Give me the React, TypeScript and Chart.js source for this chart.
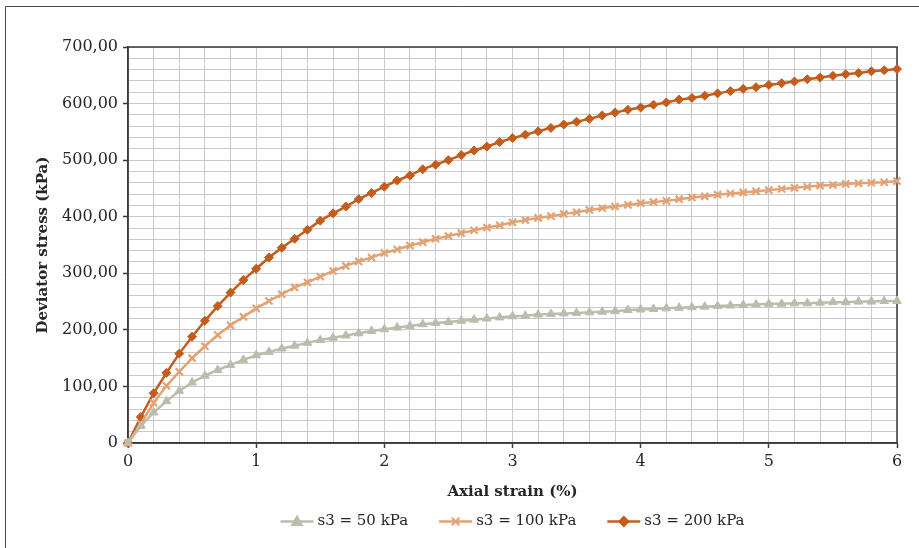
import React, { useEffect, useRef } from 'react';
import { Chart, registerables } from 'chart.js';

Chart.register(...registerables);

const strain = [
  0, 0.1, 0.2, 0.3, 0.4, 0.5, 0.6, 0.7, 0.8, 0.9,
  1, 1.1, 1.2, 1.3, 1.4, 1.5, 1.6, 1.7, 1.8, 1.9,
  2, 2.1, 2.2, 2.3, 2.4, 2.5, 2.6, 2.7, 2.8, 2.9,
  3, 3.1, 3.2, 3.3, 3.4, 3.5, 3.6, 3.7, 3.8, 3.9,
  4, 4.1, 4.2, 4.3, 4.4, 4.5, 4.6, 4.7, 4.8, 4.9,
  5, 5.1, 5.2, 5.3, 5.4, 5.5, 5.6, 5.7, 5.8, 5.9, 6,
];

const s50 = [
  0, 30, 54, 74, 92, 107, 119, 129, 138, 147,
  155, 161, 167, 172, 177, 182, 186, 190, 194, 198,
  201, 204, 207, 210, 212, 214, 216, 218, 220, 222,
  224, 225, 227, 228, 229, 230, 231, 232, 233, 235,
  236, 237, 238, 239, 240, 241, 242, 243, 244, 245,
  246, 246, 247, 247, 248, 249, 249, 250, 250, 251, 251,
];

const s100 = [
  0, 34, 71, 101, 126, 150, 171, 191, 208, 223,
  238, 251, 263, 275, 284, 294, 304, 313, 321, 328,
  336, 342, 349, 355, 361, 366, 371, 376, 381, 385,
  390, 394, 398, 401, 405, 408, 412, 415, 418, 421,
  424, 426, 428, 431, 434, 436, 439, 441, 443, 445,
  447, 449, 451, 453, 455, 456, 458, 459, 460, 461, 463,
];

const s200 = [
  0, 46, 88, 124, 158, 188, 216, 242, 266, 288,
  308, 328, 345, 361, 377, 393, 406, 418, 431, 442,
  453, 464, 473, 484, 492, 500, 509, 517, 524, 532,
  539, 545, 551, 557, 563, 568, 573, 579, 584, 589,
  593, 598, 602, 607, 610, 614, 618, 622, 626, 629,
  633, 636, 639, 643, 646, 649, 652, 654, 657, 659, 661,
];

const seriesLabels = ['s3 = 50 kPa', 's3 = 100 kPa', 's3 = 200 kPa'];
const yTickLabels: Record<number, string> = {
  0: '0', 100: '100,00', 200: '200,00', 300: '300,00', 400: '400,00',
  500: '500,00', 600: '600,00', 700: '700,00',
};
const xTickLabels: Record<number, string> = {
  0: '0', 1: '1', 2: '2', 3: '3', 4: '4', 5: '5', 6: '6',
};
const xTitle = 'Axial strain (%)';
const yTitle = 'Deviator stress (kPa)';

const FONT = '"DejaVu Serif", "Liberation Serif", serif';
const TEXT = '#262626';
const GRID = '#c9c9c9';
const AXIS = '#3a3a3a';

function drawMarker(ctx: CanvasRenderingContext2D, style: string, x: number, y: number, r: number, color: string) {
  ctx.save();
  ctx.fillStyle = color;
  ctx.strokeStyle = color;
  ctx.lineWidth = 2;
  ctx.beginPath();
  if (style === 'triangle') {
    ctx.moveTo(x, y - r);
    ctx.lineTo(x + r * 0.95, y + r * 0.7);
    ctx.lineTo(x - r * 0.95, y + r * 0.7);
    ctx.closePath();
    ctx.fill();
    ctx.stroke();
  } else if (style === 'crossRot') {
    const d = r * 0.75;
    ctx.moveTo(x - d, y - d);
    ctx.lineTo(x + d, y + d);
    ctx.moveTo(x + d, y - d);
    ctx.lineTo(x - d, y + d);
    ctx.stroke();
  } else {
    ctx.moveTo(x, y - r);
    ctx.lineTo(x + r, y);
    ctx.lineTo(x, y + r);
    ctx.lineTo(x - r, y);
    ctx.closePath();
    ctx.fill();
    ctx.stroke();
  }
  ctx.restore();
}

const framePlugin = {
  id: 'frame',
  beforeDatasetsDraw(chart: any) {
    const { ctx, chartArea } = chart;
    ctx.save();
    ctx.strokeStyle = AXIS;
    ctx.lineWidth = 1.5;
    ctx.strokeRect(chartArea.left, chartArea.top, chartArea.right - chartArea.left, chartArea.bottom - chartArea.top);
    ctx.restore();
  },
  afterDraw(chart: any) {
    const { ctx, chartArea } = chart;
    ctx.save();
    ctx.strokeStyle = '#4a4a4a';
    ctx.lineWidth = 1;
    ctx.beginPath();
    ctx.moveTo(5.5, 548);
    ctx.lineTo(5.5, 6.5);
    ctx.lineTo(919, 6.5);
    ctx.stroke();
    ctx.restore();

    ctx.save();
    ctx.font = '15px ' + FONT;
    ctx.textBaseline = 'middle';
    ctx.textAlign = 'left';
    const lineLen = 33;
    const gap = 4;
    const spacing = 31;
    const items = chart.data.datasets.map((ds: any) => ({ ds, w: ctx.measureText(ds.label).width }));
    let total = 0;
    items.forEach((it: any, i: number) => {
      total += lineLen + gap + it.w + (i > 0 ? spacing : 0);
    });
    let x = (chartArea.left + chartArea.right) / 2 - total / 2;
    const y = 521.5;
    items.forEach((it: any) => {
      const ds = it.ds;
      ctx.strokeStyle = ds.borderColor;
      ctx.lineWidth = 2.5;
      ctx.beginPath();
      ctx.moveTo(x, y);
      ctx.lineTo(x + lineLen, y);
      ctx.stroke();
      drawMarker(ctx, ds.pointStyle, x + lineLen / 2, y, ds.pointRadius, ds.borderColor);
      ctx.fillStyle = TEXT;
      ctx.fillText(ds.label, x + lineLen + gap, y);
      x += lineLen + gap + it.w + spacing;
    });
    ctx.restore();
  },
};

function isInt(v: number) {
  return Math.abs(v - Math.round(v)) < 1e-6;
}

export default function App() {
  const ref = useRef<HTMLCanvasElement | null>(null);

  useEffect(() => {
    if (!ref.current) return;
    const mk = (vals: number[]) => strain.map((x, i) => ({ x, y: vals[i] }));
    const chart = new Chart(ref.current, {
      type: 'line',
      data: {
        datasets: [
          {
            label: seriesLabels[0],
            data: mk(s50),
            borderColor: '#bdbcac',
            backgroundColor: '#bdbcac',
            borderWidth: 2.5,
            pointStyle: 'triangle',
            pointRadius: 5,
            pointBorderWidth: 1,
            clip: false,
          },
          {
            label: seriesLabels[1],
            data: mk(s100),
            borderColor: '#e3a273',
            backgroundColor: '#e3a273',
            borderWidth: 2.5,
            pointStyle: 'crossRot',
            pointRadius: 5,
            pointBorderWidth: 2.2,
            clip: false,
          },
          {
            label: seriesLabels[2],
            data: mk(s200),
            borderColor: '#c45c1c',
            backgroundColor: '#c45c1c',
            borderWidth: 2.5,
            pointStyle: 'rectRot',
            pointRadius: 4.5,
            pointBorderWidth: 1,
            clip: false,
          },
        ] as any,
      },
      options: {
        animation: false,
        responsive: false,
        layout: { padding: { left: 34, top: 47, right: 22, bottom: 47 } },
        plugins: {
          legend: { display: false },
          tooltip: { enabled: false },
        },
        scales: {
          x: {
            type: 'linear',
            min: 0,
            max: 6,
            afterFit: (scale: any) => { scale.height = 58; },
            ticks: {
              stepSize: 0.2,
              autoSkip: false,
              maxRotation: 0,
              padding: 4,
              color: TEXT,
              font: { family: FONT, size: 16 },
              callback: (v: any) => (isInt(Number(v)) ? xTickLabels[Math.round(Number(v))] ?? '' : ''),
            },
            grid: {
              color: GRID,
              lineWidth: 1,
              tickLength: 5,
              tickColor: (c: any) => (c.tick && isInt(c.tick.value) ? AXIS : 'rgba(0,0,0,0)'),
              tickWidth: 1.5,
            },
            border: { color: AXIS, width: 1.5 },
            title: {
              display: true,
              text: xTitle,
              color: TEXT,
              padding: 0,
              font: { family: FONT, size: 15, weight: 'bold' },
            },
          },
          y: {
            type: 'linear',
            min: 0,
            max: 700,
            afterFit: (scale: any) => { scale.width = 94; },
            ticks: {
              stepSize: 20,
              autoSkip: false,
              padding: 5,
              color: TEXT,
              font: { family: FONT, size: 16 },
              callback: (v: any) => {
                const n = Math.round(Number(v));
                return n % 100 === 0 ? yTickLabels[n] ?? '' : '';
              },
            },
            grid: {
              color: GRID,
              lineWidth: 1,
              tickLength: 5,
              tickColor: (c: any) => (c.tick && Math.round(c.tick.value) % 100 === 0 ? AXIS : 'rgba(0,0,0,0)'),
              tickWidth: 1.5,
            },
            border: { color: AXIS, width: 1.5 },
            title: {
              display: true,
              text: yTitle,
              color: TEXT,
              padding: 0,
              font: { family: FONT, size: 15, weight: 'bold' },
            },
          },
        },
      } as any,
      plugins: [framePlugin],
    });
    return () => chart.destroy();
  }, []);

  return (
    <div style={{ position: 'fixed', left: 0, top: 0, width: 919, height: 548, background: '#fff' }}>
      <canvas ref={ref} width={919} height={548} style={{ display: 'block' }} />
    </div>
  );
}
